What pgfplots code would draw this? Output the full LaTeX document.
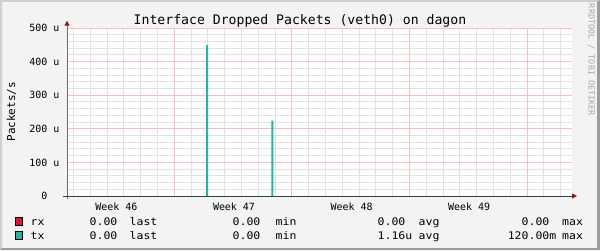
\documentclass[border=0pt]{standalone}
\usepackage{fontspec}
\setmainfont{DejaVu Sans Mono}
\setmonofont{DejaVu Sans Mono}
\newfontfamily\legendfont[FakeStretch=1.1]{DejaVu Sans Mono}
\usepackage{pgfplots}
\pgfplotsset{compat=1.18}
\usetikzlibrary{arrows.meta}
\definecolor{bgc}{HTML}{F3F3F3}
\definecolor{lightb}{HTML}{D0D0D0}
\definecolor{darkb}{HTML}{9C9C9C}
\definecolor{rxc}{HTML}{DC143C}
\definecolor{txc}{HTML}{24B4AA}
\definecolor{majg}{HTML}{F5C0C0}
\definecolor{ming}{HTML}{E2E2E2}
\definecolor{xaxc}{HTML}{284848}
\definecolor{yaxc}{HTML}{707070}
\definecolor{arrc}{HTML}{8B1A1A}
\definecolor{credc}{HTML}{A8A8A8}
\begin{document}
\begin{tikzpicture}[x=1bp,y=1bp]
\fill[bgc] (0,0) rectangle (600,250);
\fill[lightb] (0,0) -- (0,250) -- (600,250) -- (598,248) -- (2,248) -- (2,2) -- cycle;
\fill[darkb] (600,250) -- (600,0) -- (0,0) -- (2,2) -- (597,2) -- (597,248) -- cycle;
\fill[white] (67,54) rectangle (572,222);
\begin{axis}[
  at={(67bp,54bp)}, anchor=south west,
  scale only axis, width=505bp, height=168bp,
  xmin=0.61, xmax=30.67, ymin=0, ymax=500,
  axis line style={draw=none},
  xtick={7,14,21,28}, xticklabels={,,,},
  minor xtick={1,2,3,4,5,6,8,9,10,11,12,13,15,16,17,18,19,20,22,23,24,25,26,27,29,30},
  ytick={0,100,200,300,400,500},
  yticklabels={0\hphantom{00},100 u,200 u,300 u,400 u,500 u},
  minor ytick={20,40,60,80,120,140,160,180,220,240,260,280,320,340,360,380,420,440,460,480},
  grid=minor,
  every minor grid/.style={draw=ming, line width=1bp},
  major tick length=0pt, minor tick length=0pt,
  tick align=inside,
  yticklabel style={font=\fontsize{10}{12}\selectfont, anchor=east, inner sep=0pt, xshift=-7.5bp},
  xticklabel style={font=\fontsize{10}{12}\selectfont, anchor=north, inner sep=0pt, yshift=-6.5bp},
  extra x ticks={3.55,10.55,17.55,24.55},
  extra x tick labels={Week 46,Week 47,Week 48,Week 49},
  extra x tick style={grid=none},
  clip=true,
]
\pgfplotsinvokeforeach{7,14,21,28}{
  \draw[majg, line width=1bp] (axis cs:#1,0) -- (axis cs:#1,500);
}
\pgfplotsinvokeforeach{100,200,300,400,500}{
  \draw[majg, line width=1bp] (axis cs:0.61,#1) -- (axis cs:30.67,#1);
}
\addplot[rxc, no marks, line width=1bp] coordinates {(0.61,0) (30.67,0)};
\addplot[ybar, bar width=2bp, fill=txc, draw=none] coordinates {(8.95,449) (12.83,224)};
\end{axis}
% axis lines
\draw[yaxc, line width=1bp, -{Triangle[length=5bp,width=5bp,color=arrc,fill=arrc]}] (67,51) -- (67,229.3);
\draw[xaxc, line width=1bp, -{Triangle[length=5bp,width=5bp,color=arrc,fill=arrc]}] (63,54) -- (577,54);
% title
\node[anchor=base, inner sep=0pt, font=\fontsize{13.2}{15}\selectfont] at (300,226) {Interface Dropped Packets (veth0) on dagon};
% y label
\node[anchor=base, rotate=90, inner sep=0pt, font=\fontsize{11}{13}\selectfont] at (15,138.3) {Packets/s};
% credits
\node[anchor=base, rotate=-90, inner sep=0pt, text=credc, font=\fontsize{8.5}{10}\selectfont] at (588.5,190) {RRDTOOL / TOBI OETIKER};
% legend
\begin{scope}[every node/.style={inner sep=0pt, font=\legendfont\fontsize{10.5}{12}\selectfont}]
\filldraw[fill=rxc, draw=black, line width=0.8bp] (15.5,24.2) rectangle (22,32.4);
\filldraw[fill=txc, draw=black, line width=0.8bp] (15.5,10.8) rectangle (22,18.6);
\node[anchor=base west] at (30.5,24.3) {rx};
\node[anchor=base west] at (30.5,11) {tx};
\node[anchor=base east] at (124.5,24.3) {0.00\hphantom{u}};
\node[anchor=base east] at (124.5,11) {0.00\hphantom{u}};
\node[anchor=base west] at (129.5,24.3) {last};
\node[anchor=base west] at (129.5,11) {last};
\node[anchor=base east] at (267.5,24.3) {0.00\hphantom{u}};
\node[anchor=base east] at (267.5,11) {0.00\hphantom{u}};
\node[anchor=base west] at (275.5,24.3) {min};
\node[anchor=base west] at (275.5,11) {min};
\node[anchor=base east] at (412.5,24.3) {0.00\hphantom{u}};
\node[anchor=base east] at (412.5,11) {1.16u};
\node[anchor=base west] at (418.5,24.3) {avg};
\node[anchor=base west] at (418.5,11) {avg};
\node[anchor=base east] at (556.5,24.3) {0.00\hphantom{m}};
\node[anchor=base east] at (556.5,11) {120.00m};
\node[anchor=base west] at (562,24.3) {max};
\node[anchor=base west] at (562,11) {max};
\end{scope}
\end{tikzpicture}
\end{document}
